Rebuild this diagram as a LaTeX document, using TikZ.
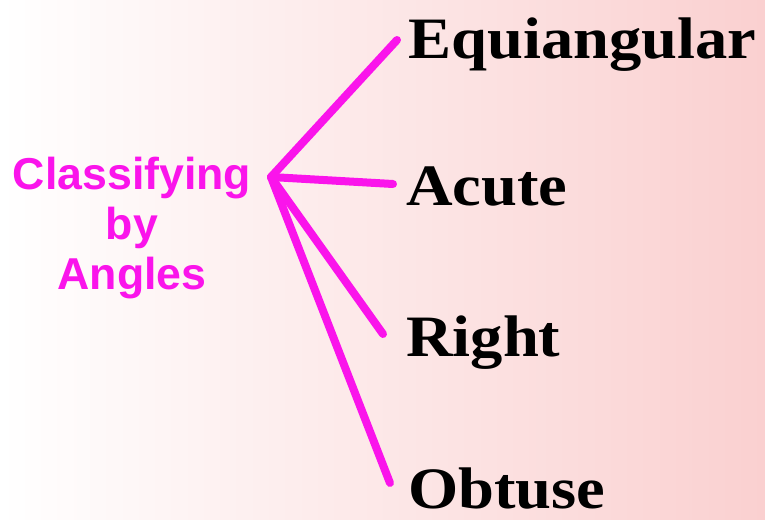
\documentclass[tikz,border=0pt]{standalone}
\usepackage{fontspec}
\setmainfont{Liberation Serif}
\setsansfont{Liberation Sans}
\newfontfamily\classfont[FakeStretch=1.1]{Liberation Serif}
\usetikzlibrary{positioning}
\definecolor{branchpink}{RGB}{250,20,235}
\definecolor{bgpink}{RGB}{250,208,208}
\tikzset{
    branch_line/.style={
        draw=branchpink, line width=6pt, line cap=round
    },
    class_lbl/.style={
        font=\classfont\bfseries\fontsize{44}{48}\selectfont, text=black,
        anchor=base west, inner sep=0pt
    },
    topic_lbl/.style={
        font=\sffamily\bfseries\fontsize{33.5}{37.5}\selectfont, text=branchpink,
        align=center, inner sep=0pt
    }
}

\begin{document}
\begin{tikzpicture}[x=0.75pt, y=-0.75pt]

    % --- Background ---
    \fill[left color=white, right color=bgpink] (0,0) rectangle (765,519);
    \useasboundingbox (0,0) rectangle (765,519);

    % --- Topic ---
    \node[topic_lbl] (topic) at (132,228) {Classifying\\by\\Angles};
    \coordinate (hub) at (271,177);

    % --- Branch ends ---
    \coordinate (equi_end) at (397,40);
    \coordinate (acute_end) at (393,184);
    \coordinate (right_end) at (383,334);
    \coordinate (obtuse_end) at (390,483);

    % --- Classes ---
    \node[class_lbl] (equi) at (408,58) {Equiangular};
    \node[class_lbl] (acute) at (406,205) {Acute};
    \node[class_lbl] (right) at (406,356) {Right};
    \node[class_lbl] (obtuse) at (408,508) {Obtuse};

    % --- Branches ---
    \draw[branch_line] (hub) -- (equi_end);
    \draw[branch_line] (hub) -- (acute_end);
    \draw[branch_line] (hub) -- (right_end);
    \draw[branch_line] (hub) -- (obtuse_end);

\end{tikzpicture}
\end{document}
